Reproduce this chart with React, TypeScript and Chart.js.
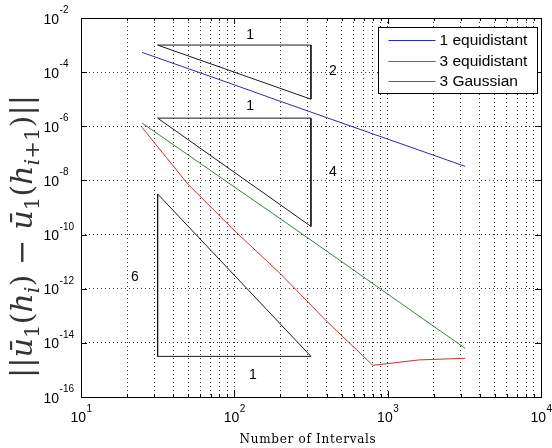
import React, { useEffect, useRef } from "react";
import { Chart, registerables } from "chart.js";
Chart.register(...registerables);

// ---- data ----
const intervals = [25, 50, 100, 200, 400, 800, 1600, 3200];
const equidistant1 = [5.37e-4, 1.35e-4, 3.39e-5, 8.32e-6, 2.09e-6, 5.25e-7, 1.32e-7, 3.31e-8];
const equidistant3 = [1.32e-6, 8.7e-8, 5.75e-9, 3.8e-10, 2.45e-11, 1.55e-12, 9.8e-14, 6.3e-15];
const gaussian3 = [9.1e-7, 7.1e-9, 1.41e-10, 3.55e-12, 6.3e-14, 1.48e-15, 2.34e-15, 2.69e-15];
const seriesLabels = ["1 equidistant", "3 equidistant", "3 Gaussian"];
const seriesColors = ["#2b2ba8", "#3f7f3f", "#c03434"];

// slope triangles (data coordinates)
const slope2X = [31.6, 316, 316, 31.6];
const slope2Y = [1e-3, 1e-3, 1e-5, 1e-3];
const slope4X = [31.6, 316, 316, 31.6];
const slope4Y = [2e-6, 2e-6, 2e-10, 2e-6];
const slope6X = [31.6, 31.6, 316, 31.6];
const slope6Y = [3.16e-9, 3.16e-15, 3.16e-15, 3.16e-9];

const slopeLabels = ["1", "2", "1", "4", "6", "1"];
const slopeLabelX = [127, 440, 127, 440, 22.5, 132];
const slopeLabelY = [2.34e-3, 1.1e-4, 5.6e-6, 1.95e-8, 2.75e-12, 6.5e-16];

// axes
const xMajorTicks = [10, 100, 1000, 10000];
const yMajorTicks = [1e-16, 1e-14, 1e-12, 1e-10, 1e-8, 1e-6, 1e-4, 1e-2];
const xTitle = "Number of Intervals";
type Seg = { t: string; it?: boolean; sub?: boolean };
const yTitleSegs: Seg[] = [
  { t: "||" }, { t: "ū", it: true }, { t: "1", sub: true }, { t: "(" }, { t: "h", it: true },
  { t: "i", it: true, sub: true }, { t: ")" }, { t: " − " }, { t: "ū", it: true }, { t: "1", sub: true },
  { t: "(" }, { t: "h", it: true }, { t: "i", it: true, sub: true }, { t: "+1", sub: true }, { t: ")" }, { t: "||" },
];

const xGridValues: number[] = [];
xMajorTicks.forEach((m, i) => {
  xGridValues.push(m);
  if (i < xMajorTicks.length - 1) for (let k = 2; k <= 9; k++) xGridValues.push(m * k);
});

const SANS = '"Liberation Sans", Arial, sans-serif';
const SERIF = '"DejaVu Serif", "Liberation Serif", serif';

const decor = {
  id: "decor",
  afterDatasetsDraw(chart: any) {
    const { ctx, chartArea: a, scales } = chart;
    const xs = scales.x, ys = scales.y;
    const L = Math.round(a.left), T = Math.round(a.top), R = Math.round(a.right), B = Math.round(a.bottom);
    ctx.save();
    ctx.strokeStyle = "#000";
    ctx.lineWidth = 1;
    const line = (x1: number, y1: number, x2: number, y2: number, c: string) => {
      ctx.strokeStyle = c;
      ctx.beginPath(); ctx.moveTo(x1, y1); ctx.lineTo(x2, y2); ctx.stroke();
    };
    ctx.strokeRect(L + 0.5, T + 0.5, R - L, B - T);
    for (const v of xGridValues) {
      const px = Math.round(xs.getPixelForValue(v)) + 0.5;
      const len = xMajorTicks.includes(v) ? 6 : 3;
      line(px, B, px, B - len, "#000");
      line(px, T, px, T + len, "#000");
    }
    for (const v of yMajorTicks) {
      const py = Math.round(ys.getPixelForValue(v)) + 0.5;
      line(L, py, L + 6, py, "#000");
      line(R, py, R - 6, py, "#000");
    }
    // slope labels
    ctx.fillStyle = "#000";
    ctx.font = `14px ${SANS}`;
    ctx.textAlign = "center";
    ctx.textBaseline = "middle";
    slopeLabels.forEach((s, i) => {
      ctx.fillText(s, xs.getPixelForValue(slopeLabelX[i]), ys.getPixelForValue(slopeLabelY[i]));
    });
    // legend
    const lw = 159, lh = 66;
    const lx = R - 4 - lw + 0.5, ly = T + 9 + 0.5;
    ctx.fillStyle = "#fff";
    ctx.fillRect(lx, ly, lw, lh);
    ctx.strokeStyle = "#000";
    ctx.strokeRect(lx, ly, lw, lh);
    ctx.textAlign = "left";
    ctx.font = `15.5px ${SANS}`;
    seriesLabels.forEach((lab, i) => {
      const ry = Math.round(ly + 12.5 + i * 20.5) + 0.5;
      line(lx + 10, ry, lx + 57, ry, seriesColors[i]);
      ctx.fillStyle = "#000";
      ctx.fillText(lab, lx + 61, ry + 0.5);
    });
    ctx.restore();
  },
  afterDraw(chart: any) {
    const { ctx, chartArea: a, scales } = chart;
    const xs = scales.x, ys = scales.y;
    ctx.save();
    ctx.fillStyle = "#000";
    ctx.textAlign = "left";
    ctx.textBaseline = "alphabetic";
    const f10 = `14px ${SANS}`, fe = `10px ${SANS}`;
    for (const v of xMajorTicks) {
      const e = String(Math.round(Math.log10(v)));
      ctx.font = f10; const w1 = ctx.measureText("10").width;
      ctx.font = fe; const w2 = ctx.measureText(e).width;
      const px = xs.getPixelForValue(v);
      const s = px - (w1 + w2) / 2;
      ctx.font = f10; ctx.fillText("10", s, a.bottom + 24.5);
      ctx.font = fe; ctx.fillText(e, s + w1 + 0.5, a.bottom + 14.5);
    }
    for (const v of yMajorTicks) {
      const e = String(Math.round(Math.log10(v)));
      const py = ys.getPixelForValue(v);
      const s = a.left - 37.5;
      ctx.font = f10; const w1 = ctx.measureText("10").width;
      ctx.fillText("10", s, py + 5.5);
      ctx.font = fe; ctx.fillText(e, s + w1 + 0.5, py - 5);
    }
    // x title
    ctx.font = `12px "DejaVu Serif", serif`;
    try { (ctx as any).letterSpacing = "0.7px"; } catch (e) {}
    ctx.textAlign = "center";
    ctx.fillText(xTitle, (a.left + a.right) / 2 - 3, a.bottom + 46);
    try { (ctx as any).letterSpacing = "0px"; } catch (e) {}
    // y title (rotated, reads bottom to top), sized to span 283px
    ctx.textAlign = "left";
    ctx.fillStyle = "#333";
    const font = (s: Seg, b: number) => `${s.it ? "italic " : ""}${s.sub ? b * 0.7 : b}px ${SERIF}`;
    const measure = (b: number) =>
      yTitleSegs.reduce((w, s) => { ctx.font = font(s, b); return w + ctx.measureText(s.t).width; }, 0);
    const b = (22 * 283) / measure(22);
    ctx.translate(32, 378);
    ctx.rotate(-Math.PI / 2);
    let x = 0;
    for (const s of yTitleSegs) {
      ctx.font = font(s, b);
      ctx.fillText(s.t, x, s.sub ? b * 0.24 : 0);
      x += ctx.measureText(s.t).width;
    }
    ctx.restore();
  },
};

export default function App() {
  const ref = useRef<HTMLCanvasElement>(null);
  useEffect(() => {
    const canvas = ref.current!;
    const series = [equidistant1, equidistant3, gaussian3].map((vals, k) => ({
      label: seriesLabels[k],
      data: intervals.map((n, i) => ({ x: n, y: vals[i] })),
      borderColor: seriesColors[k],
      backgroundColor: seriesColors[k],
      borderWidth: 1,
      pointRadius: 0,
      showLine: true,
      fill: false,
    }));
    const triangles = [
      [slope2X, slope2Y],
      [slope4X, slope4Y],
      [slope6X, slope6Y],
    ].map(([xv, yv]) => ({
      label: "",
      data: xv.map((x, i) => ({ x, y: yv[i] })),
      borderColor: "#1a1a1a",
      backgroundColor: "#1a1a1a",
      borderWidth: 1,
      pointRadius: 0,
      showLine: true,
      fill: false,
    }));
    const gridCommon = { color: "#333", lineWidth: 1, drawTicks: false };
    const chart = new Chart(canvas, {
      type: "scatter",
      data: { datasets: [...series, ...triangles] as any },
      options: {
        animation: false,
        responsive: false,
        devicePixelRatio: 1,
        events: [],
        layout: { padding: { left: 81, top: 18, right: 11, bottom: 51 } },
        plugins: { legend: { display: false }, tooltip: { enabled: false } },
        scales: {
          x: {
            type: "logarithmic",
            min: 10,
            max: 10000,
            afterBuildTicks: (s: any) => { s.ticks = xGridValues.map((v) => ({ value: v })); },
            afterFit: (s: any) => { s.height = 0; },
            ticks: { display: false, autoSkip: false },
            grid: gridCommon,
            border: { display: false, dash: [1, 3] },
          },
          y: {
            type: "logarithmic",
            min: 1e-16,
            max: 1e-2,
            afterBuildTicks: (s: any) => { s.ticks = yMajorTicks.map((v) => ({ value: v })); },
            afterFit: (s: any) => { s.width = 0; },
            ticks: { display: false, autoSkip: false },
            grid: gridCommon,
            border: { display: false, dash: [1, 3] },
          },
        },
      } as any,
      plugins: [decor],
    });
    return () => chart.destroy();
  }, []);
  return (
    <div style={{ position: "fixed", left: 0, top: 0, width: 552, height: 448, background: "#fff" }}>
      <canvas ref={ref} width={552} height={448} style={{ display: "block", width: 552, height: 448 }} />
    </div>
  );
}
